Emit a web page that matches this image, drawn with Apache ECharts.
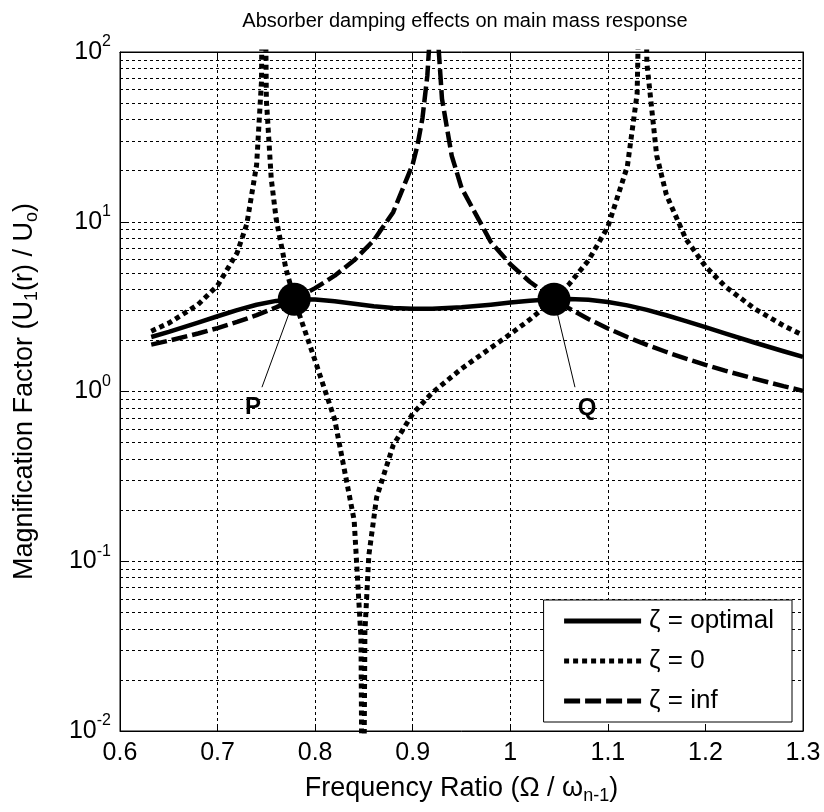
<!DOCTYPE html>
<html><head><meta charset="utf-8">
<script src="https://cdn.jsdelivr.net/npm/echarts@6/dist/echarts.min.js"></script>
<style>html,body{margin:0;padding:0;background:#fff}#c{width:824px;height:812px}</style>
</head><body><div id="c"></div>
<script>
// ---- data ----
const seriesNames = ['ζ = optimal', 'ζ = 0', 'ζ = inf'];
const optX = [0.632,0.65,0.68,0.70,0.72,0.74,0.76,0.78,0.80,0.82,0.84,0.86,0.88,0.90,0.92,0.95,0.98,1.00,1.02,1.04,1.06,1.08,1.10,1.12,1.14,1.16,1.18,1.20,1.22,1.25,1.28,1.30];
const optY = [2.095,2.245,2.544,2.775,3.018,3.245,3.418,3.500,3.484,3.398,3.286,3.182,3.107,3.069,3.069,3.131,3.248,3.340,3.427,3.489,3.507,3.469,3.369,3.215,3.024,2.813,2.599,2.393,2.201,1.944,1.726,1.599];
const zeroX = [0.632,0.65,0.68,0.70,0.72,0.73,0.74,0.745,0.7473,0.75,0.755,0.76,0.77,0.78,0.80,0.82,0.84,0.847,0.8489,0.851,0.855,0.863,0.88,0.90,0.92,0.95,0.98,1.00,1.02,1.04,1.06,1.08,1.10,1.12,1.13,1.136,1.14,1.15,1.16,1.18,1.20,1.22,1.25,1.28,1.30];
const zeroY = [2.267,2.528,3.249,4.213,6.550,9.723,21.6,67.1,3000,52.7,17.95,10.44,5.303,3.288,1.518,0.684,0.1742,0.0350,0.0005,0.0383,0.1079,0.2376,0.4825,0.7394,0.9835,1.362,1.807,2.178,2.653,3.303,4.271,5.907,9.327,21.23,56.8,3000,86.0,24.63,14.41,7.906,5.459,4.172,3.083,2.443,2.144];
const infX = [0.632,0.65,0.68,0.70,0.72,0.74,0.76,0.78,0.80,0.82,0.84,0.86,0.88,0.90,0.905,0.91,0.915,0.918,0.9213,0.924,0.93,0.94,0.95,0.98,1.00,1.02,1.04,1.06,1.08,1.10,1.12,1.14,1.16,1.18,1.20,1.22,1.25,1.28,1.30];
const infY = [1.889,1.991,2.196,2.365,2.569,2.817,3.129,3.530,4.064,4.810,5.924,7.767,11.39,21.82,28.42,40.8,72.7,137.5,8000,174,53.0,24.46,15.84,7.613,5.618,4.433,3.648,3.090,2.674,2.351,2.093,1.884,1.709,1.562,1.436,1.327,1.190,1.075,1.009];
// fixed points P and Q
const pointNames = ['P', 'Q'];
const pointX = [0.7786, 1.0448];
const pointY = [3.5, 3.5];
// leader line ends / label anchors
const leaderEndX = [0.7455, 1.0663];
const leaderEndY = [1.06, 1.06];
const labelX = [0.7363, 1.0786];
const labelY = [0.81, 0.80];
// axis ticks and grid
const xMin = 0.6, xMax = 1.3, xStep = 0.1;
const yMin = 0.01, yMax = 100;
const yMinorGrid = [0.02,0.03,0.04,0.05,0.06,0.07,0.08,0.09,0.2,0.3,0.4,0.5,0.6,0.7,0.8,0.9,2,3,4,5,6,7,8,9,20,30,40,50,60,70,80,90];

const zip = (a, b) => a.map((v, i) => [v, b[i]]);
const FONT = 'Liberation Sans, Arial, sans-serif';
const gridDash = { type: [3, 3], color: '#000', width: 1 };

const chart = echarts.init(document.getElementById('c'), null, { renderer: 'canvas' });
const series = [
  { name: seriesNames[0], type: 'line', data: zip(optX, optY), symbol: 'none', z: 5,
    itemStyle: { color: '#000' },
    lineStyle: { color: '#000', width: 4.5, type: 'solid', join: 'round' },
    markLine: { silent: true, symbol: 'none', label: { show: false }, animation: false,
      lineStyle: gridDash, data: yMinorGrid.map(v => ({ yAxis: v })), z: 1 } },
  { name: seriesNames[1], type: 'line', data: zip(zeroX, zeroY), symbol: 'none', z: 4,
    itemStyle: { color: '#000' },
    lineStyle: { color: '#000', width: 5, type: [5, 4], cap: 'butt' } },
  { name: seriesNames[2], type: 'line', data: zip(infX, infY), symbol: 'none', z: 4,
    itemStyle: { color: '#000' },
    lineStyle: { color: '#000', width: 4.5, type: [16, 5], cap: 'butt' } }
];
pointNames.forEach((n, i) => {
  series.push({ name: 'leader' + n, type: 'line', symbol: 'none', z: 6,
    data: [[pointX[i], pointY[i]], [leaderEndX[i], leaderEndY[i]]],
    lineStyle: { color: '#000', width: 1 } });
});
series.push({ name: 'points', type: 'scatter', symbolSize: 33, z: 8,
  itemStyle: { color: '#000', opacity: 1 }, data: zip(pointX, pointY) });
series.push({ name: 'labels', type: 'scatter', symbolSize: 1, z: 8,
  itemStyle: { color: '#fff', opacity: 1 },
  label: { show: true, position: 'inside', formatter: p => p.name,
    fontSize: 24, fontWeight: 'bold', color: '#000', fontFamily: FONT },
  data: pointNames.map((n, i) => ({ name: n, value: [labelX[i], labelY[i]] })) });

chart.setOption({
  animation: false,
  backgroundColor: '#fff',
  title: { text: 'Absorber damping effects on main mass response', left: 460, top: 6, textAlign: 'center',
    textStyle: { fontSize: 20, fontWeight: 'normal', color: '#000', fontFamily: FONT } },
  grid: { left: 120, right: 21, top: 52, bottom: 81, show: true, borderColor: '#000', borderWidth: 1, backgroundColor: '#fff' },
  legend: { data: seriesNames, orient: 'vertical', right: 32, bottom: 90,
    backgroundColor: '#fff', borderColor: '#000', borderWidth: 1, borderRadius: 0,
    padding: [7, 18, 7, 18], itemWidth: 77, itemHeight: 28, itemGap: 12,
    itemStyle: { opacity: 0 },
    lineStyle: { width: 5 },
    textStyle: { fontSize: 26, lineHeight: 28, color: '#000', fontFamily: FONT, padding: [0, 0, 0, 3] } },
  xAxis: [
    { type: 'value', min: xMin, max: xMax, interval: xStep, position: 'bottom',
      axisLine: { show: true, lineStyle: { color: '#000' } },
      axisTick: { show: true, inside: true, length: 7, lineStyle: { color: '#000' } },
      splitLine: { show: true, lineStyle: gridDash },
      axisLabel: { fontSize: 25, color: '#000', fontFamily: FONT, margin: 10,
        formatter: v => String(Math.round(v * 10) / 10) },
      name: '{a|Frequency Ratio (Ω / ω}{s|n-1}{a|)}', nameLocation: 'middle', nameGap: 41,
      nameTextStyle: { rich: { a: { fontSize: 27, color: '#000', fontFamily: FONT },
        s: { fontSize: 18, color: '#000', fontFamily: FONT, padding: [15, 0, 0, 0] } } } },
    { type: 'value', min: xMin, max: xMax, interval: xStep, position: 'top',
      axisLine: { show: true, lineStyle: { color: '#000' } },
      axisTick: { show: true, inside: true, length: 7, lineStyle: { color: '#000' } },
      splitLine: { show: false }, axisLabel: { show: false } }
  ],
  yAxis: [
    { type: 'log', logBase: 10, min: yMin, max: yMax, position: 'left',
      axisLine: { show: true, lineStyle: { color: '#000' } },
      axisTick: { show: true, inside: true, length: 7, lineStyle: { color: '#000' } },
      splitLine: { show: true, lineStyle: gridDash },
      axisLabel: { margin: 9, formatter: v => '{b|10}{s|' + Math.round(Math.log10(v)) + '}',
        rich: { b: { fontSize: 25, color: '#000', fontFamily: FONT },
          s: { fontSize: 16, color: '#000', fontFamily: FONT, padding: [0, 0, 20, 0] } } },
      name: '{a|Magnification Factor (U}{s|1}{a|(r) / U}{s|o}{a|)}', nameLocation: 'middle', nameGap: 79, nameRotate: 90,
      nameTextStyle: { rich: { a: { fontSize: 27, color: '#000', fontFamily: FONT },
        s: { fontSize: 18, color: '#000', fontFamily: FONT, padding: [15, 0, 0, 0] } } } },
    { type: 'log', logBase: 10, min: yMin, max: yMax, position: 'right',
      axisLine: { show: true, lineStyle: { color: '#000' } },
      axisTick: { show: true, inside: true, length: 7, lineStyle: { color: '#000' } },
      splitLine: { show: false }, axisLabel: { show: false } }
  ],
  series: series
});
</script></body></html>
